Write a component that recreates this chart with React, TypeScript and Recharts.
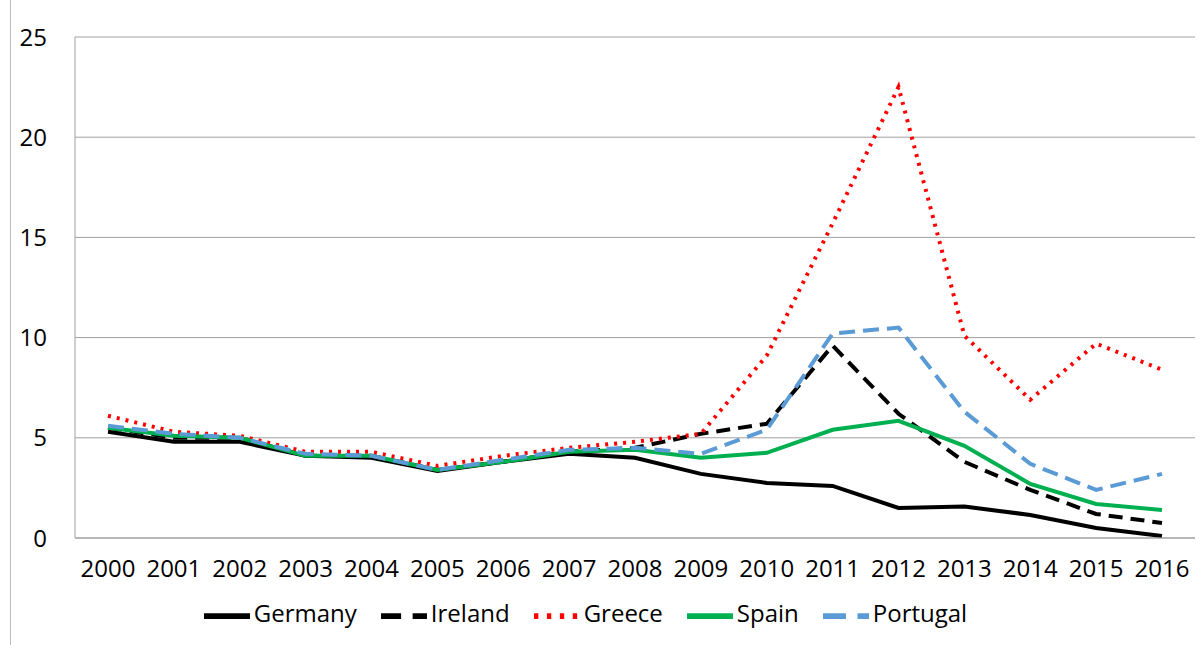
import React from 'react';
import { LineChart, Line, XAxis, YAxis, CartesianGrid, Legend } from 'recharts';

const years = ['2000', '2001', '2002', '2003', '2004', '2005', '2006', '2007', '2008', '2009', '2010', '2011', '2012', '2013', '2014', '2015', '2016'];
const germany = [5.3, 4.8, 4.8, 4.1, 4.0, 3.35, 3.8, 4.2, 4.0, 3.2, 2.75, 2.6, 1.5, 1.57, 1.15, 0.5, 0.1];
const ireland = [5.5, 5.0, 5.0, 4.1, 4.1, 3.4, 3.8, 4.3, 4.5, 5.2, 5.7, 9.6, 6.2, 3.8, 2.4, 1.2, 0.75];
const greece = [6.1, 5.3, 5.1, 4.3, 4.3, 3.6, 4.1, 4.5, 4.8, 5.2, 9.1, 15.7, 22.5, 10.1, 6.9, 9.7, 8.4];
const spain = [5.5, 5.1, 5.0, 4.1, 4.1, 3.4, 3.8, 4.3, 4.4, 4.0, 4.25, 5.4, 5.85, 4.6, 2.7, 1.7, 1.4];
const portugal = [5.6, 5.2, 5.0, 4.2, 4.1, 3.4, 3.9, 4.4, 4.5, 4.2, 5.4, 10.2, 10.5, 6.3, 3.7, 2.4, 3.2];
const seriesOrder = ['Germany', 'Ireland', 'Greece', 'Spain', 'Portugal'];
const yTicks = [0, 5, 10, 15, 20, 25];

const data = years.map((year, i) => ({
  year,
  Germany: germany[i],
  Ireland: ireland[i],
  Greece: greece[i],
  Spain: spain[i],
  Portugal: portugal[i],
}));

const font = { fontFamily: 'Open Sans, sans-serif', fontSize: 24, fill: '#000' };

export default function App() {
  return (
    <div style={{ position: 'absolute', left: 0, top: 0, width: 1200, height: 645, background: '#fff', fontFamily: 'Open Sans, sans-serif' }}>
      <div style={{ position: 'absolute', left: 10, top: 0, width: 1, height: 645, background: '#bbb' }} />
      <LineChart width={1200} height={645} data={data} margin={{ top: 37, right: 5, left: 0, bottom: 0 }}>
        <CartesianGrid vertical={false} stroke="#a0a0a0" />
        <XAxis dataKey="year" stroke="#a0a0a0" tick={font} tickLine={false} padding={{ left: 33, right: 33 }} height={55} tickMargin={16} interval={0} />
        <YAxis domain={[0, 25]} ticks={yTicks} stroke="#a0a0a0" tick={font} tickLine={false} width={75} tickMargin={22} />
        <Legend verticalAlign="bottom" height={52} iconType="plainline" iconSize={46}
          itemSorter={(item: any) => seriesOrder.indexOf(item.dataKey ?? item.value)}
          wrapperStyle={{ fontSize: 24, color: '#000' }}
          formatter={(v) => <span style={{ color: '#000', marginRight: 14 }}>{v}</span>} />
        <Line dataKey="Germany" stroke="#000" strokeWidth={4} dot={false} isAnimationActive={false} />
        <Line dataKey="Ireland" stroke="#000" strokeWidth={4} strokeDasharray="14 8" dot={false} isAnimationActive={false} />
        <Line dataKey="Greece" stroke="#ff0000" strokeWidth={4} strokeDasharray="3 6" dot={false} isAnimationActive={false} />
        <Line dataKey="Spain" stroke="#00b050" strokeWidth={4} dot={false} isAnimationActive={false} />
        <Line dataKey="Portugal" stroke="#5b9bd5" strokeWidth={4} strokeDasharray="16 8" dot={false} isAnimationActive={false} />
      </LineChart>
    </div>
  );
}
